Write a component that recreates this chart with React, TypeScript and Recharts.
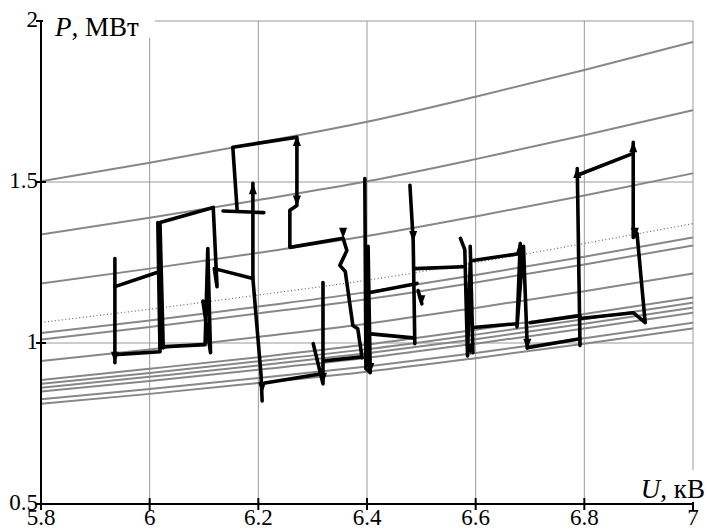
import React from 'react';
import { ComposedChart, Line, Scatter, XAxis, YAxis, CartesianGrid } from 'recharts';

// ---------- axes ----------
const X_TICKS = [5.8, 6.0, 6.2, 6.4, 6.6, 6.8, 7.0];
const X_TICK_LABELS = ['5.8', '6', '6.2', '6.4', '6.6', '6.8', '7'];
const Y_TICKS = [0.5, 1, 1.5, 2];
const Y_TICK_LABELS = ['0.5', '1', '1.5', '2'];

// ---------- grey characteristic curves (P at U = 5.8 … 7.0) ----------
const U_GRID = [5.8, 6.0, 6.2, 6.4, 6.6, 6.8, 7.0];
const CURVE_1 = [1.502, 1.56, 1.622, 1.687, 1.765, 1.848, 1.935];
const CURVE_2 = [1.337, 1.389, 1.444, 1.502, 1.571, 1.645, 1.723];
const CURVE_3 = [1.185, 1.231, 1.28, 1.332, 1.393, 1.458, 1.527];
const CURVE_DOTTED = [1.064, 1.105, 1.149, 1.195, 1.25, 1.309, 1.371];
const CURVE_5 = [1.031, 1.07, 1.113, 1.158, 1.211, 1.268, 1.328];
const CURVE_6 = [1.011, 1.05, 1.092, 1.136, 1.188, 1.244, 1.303];
const CURVE_7 = [0.944, 0.98, 1.019, 1.06, 1.109, 1.161, 1.216];
const CURVE_8 = [0.885, 0.92, 0.956, 0.995, 1.041, 1.09, 1.141];
const CURVE_9 = [0.873, 0.907, 0.943, 0.981, 1.026, 1.074, 1.125];
const CURVE_10 = [0.861, 0.895, 0.93, 0.968, 1.012, 1.06, 1.11];
const CURVE_11 = [0.849, 0.882, 0.917, 0.954, 0.998, 1.045, 1.094];
const CURVE_12 = [0.825, 0.857, 0.891, 0.927, 0.969, 1.015, 1.063];
const CURVE_13 = [0.811, 0.842, 0.876, 0.911, 0.953, 0.998, 1.045];

// ---------- black trajectory pieces [U, P] ----------
type Pt = [number, number];
const TRAJ_1: Pt[] = [[5.936, 1.262], [5.936, 0.939]];
const TRAJ_2: Pt[] = [[5.936, 1.175], [6.019, 1.222]];
const TRAJ_3: Pt[] = [[5.936, 0.964], [6.019, 0.973], [6.015, 1.374], [6.025, 0.985], [6.019, 1.374], [6.117, 1.421], [6.124, 1.175], [6.119, 1.231], [6.19, 1.2], [6.19, 1.496]];
const TRAJ_4: Pt[] = [[6.019, 0.988], [6.102, 0.995], [6.107, 1.293], [6.112, 0.97], [6.098, 1.13]];
const TRAJ_5: Pt[] = [[6.19, 1.2], [6.205, 0.9], [6.207, 0.82]];
const TRAJ_6: Pt[] = [[6.212, 0.876], [6.314, 0.904]];
const TRAJ_7: Pt[] = [[6.319, 1.188], [6.319, 0.873], [6.301, 0.998]];
const TRAJ_8: Pt[] = [[6.161, 1.412], [6.153, 1.608], [6.271, 1.639], [6.271, 1.427], [6.258, 1.412], [6.258, 1.297], [6.356, 1.325], [6.363, 1.287], [6.35, 1.241], [6.36, 1.222], [6.374, 1.054], [6.383, 1.044], [6.391, 0.954]];
const TRAJ_9: Pt[] = [[6.135, 1.41], [6.21, 1.405]];
const TRAJ_10: Pt[] = [[6.323, 0.945], [6.391, 0.957]];
const TRAJ_11: Pt[] = [[6.396, 1.511], [6.398, 0.92], [6.406, 0.908], [6.402, 1.3], [6.404, 0.93]];
const TRAJ_12: Pt[] = [[6.406, 1.157], [6.492, 1.185]];
const TRAJ_13: Pt[] = [[6.402, 1.029], [6.485, 1.016]];
const TRAJ_14: Pt[] = [[6.479, 1.49], [6.485, 1.318], [6.488, 0.998]];
const TRAJ_15: Pt[] = [[6.488, 1.231], [6.577, 1.237]];
const TRAJ_16: Pt[] = [[6.494, 1.163], [6.501, 1.122]];
const TRAJ_17: Pt[] = [[6.572, 1.325], [6.58, 1.29], [6.585, 0.96], [6.59, 1.25], [6.595, 0.97], [6.59, 1.3]];
const TRAJ_18: Pt[] = [[6.595, 1.048], [6.676, 1.06]];
const TRAJ_19: Pt[] = [[6.595, 1.256], [6.682, 1.278]];
const TRAJ_20: Pt[] = [[6.682, 1.309], [6.676, 1.05], [6.688, 1.3], [6.695, 0.985]];
const TRAJ_21: Pt[] = [[6.7, 1.063], [6.792, 1.085]];
const TRAJ_22: Pt[] = [[6.695, 0.985], [6.792, 1.013]];
const TRAJ_23: Pt[] = [[6.787, 1.542], [6.792, 0.992]];
const TRAJ_24: Pt[] = [[6.787, 1.521], [6.89, 1.589]];
const TRAJ_25: Pt[] = [[6.89, 1.623], [6.89, 1.328], [6.897, 1.34], [6.912, 1.063], [6.89, 1.094], [6.792, 1.076]];

// ---------- arrow heads [U, P, direction] ----------
const ARROWS: [number, number, string][] = [
  [5.936, 0.945, 'down'], [6.207, 0.85, 'down'], [6.319, 0.88, 'down'], [6.271, 1.43, 'down'],
  [6.356, 1.33, 'down'], [6.485, 1.32, 'down'], [6.271, 1.64, 'up'], [6.19, 1.49, 'up'],
  [6.682, 1.31, 'up'], [6.787, 1.54, 'up'], [6.89, 1.62, 'up'], [6.893, 1.33, 'down'],
  [6.695, 0.985, 'down'], [6.59, 0.97, 'down'], [6.406, 0.91, 'down'], [6.5, 1.12, 'down'],
];

const PLOT_BOTTOM = 504;
const SERIF = 'Liberation Serif, DejaVu Serif, Noto Serif, serif';

const curveData = (vals: number[]) => U_GRID.map((u, i) => ({ u, p: vals[i] }));
const ptData = (pts: Pt[]) => pts.map(([u, p]) => ({ u, p }));

const GREY_CURVES = [CURVE_1, CURVE_2, CURVE_3, CURVE_5, CURVE_6, CURVE_7, CURVE_8, CURVE_9, CURVE_10, CURVE_11, CURVE_12, CURVE_13];
const TRAJS = [TRAJ_1, TRAJ_2, TRAJ_3, TRAJ_4, TRAJ_5, TRAJ_6, TRAJ_7, TRAJ_8, TRAJ_9, TRAJ_10, TRAJ_11, TRAJ_12, TRAJ_13, TRAJ_14, TRAJ_15, TRAJ_16, TRAJ_17, TRAJ_18, TRAJ_19, TRAJ_20, TRAJ_21, TRAJ_22, TRAJ_23, TRAJ_24, TRAJ_25];

function XTick(props: any) {
  const { x, index } = props;
  return (
    <g>
      <line x1={x} x2={x} y1={PLOT_BOTTOM - 6} y2={PLOT_BOTTOM + 6} stroke="#000" strokeWidth={2} />
      <text x={x} y={525} textAnchor="middle" style={{ fontFamily: SERIF }} fontSize={23} fill="#000">
        {X_TICK_LABELS[index]}
      </text>
    </g>
  );
}

function YTick(props: any) {
  const { y, index } = props;
  return (
    <g>
      <line x1={36} x2={46} y1={y} y2={y} stroke="#000" strokeWidth={2} />
      <text x={38} y={y + 6} textAnchor="end" style={{ fontFamily: SERIF }} fontSize={23} fill="#000">
        {Y_TICK_LABELS[index]}
      </text>
    </g>
  );
}

function ArrowShape(props: any) {
  const { cx, cy, payload } = props;
  if (cx == null || cy == null) return <g />;
  const d = payload.dir === 'up' ? -1 : 1;
  const pts = `${cx - 4},${cy - 9 * d} ${cx + 4},${cy - 9 * d} ${cx},${cy + 2 * d}`;
  return <polygon points={pts} fill="#000" />;
}

export default function App() {
  const arrowData = ARROWS.map(([u, p, dir]) => ({ u, p, dir }));
  return (
    <div style={{ position: 'absolute', left: 0, top: 0, width: 707, height: 531, background: '#fff', fontFamily: SERIF }}>
      <ComposedChart width={707} height={531} margin={{ top: 21, right: 14, bottom: 0, left: 0 }}>
        <CartesianGrid stroke="#9a9a9a" strokeWidth={1} />
        <XAxis
          type="number"
          dataKey="u"
          domain={[5.8, 7]}
          ticks={X_TICKS}
          interval={0}
          height={27}
          allowDataOverflow
          axisLine={{ stroke: '#000', strokeWidth: 2 }}
          tickLine={false}
          tick={(p: any) => <XTick {...p} />}
        />
        <YAxis
          type="number"
          dataKey="p"
          domain={[0.5, 2]}
          ticks={Y_TICKS}
          interval={0}
          width={41}
          allowDataOverflow
          axisLine={{ stroke: '#000', strokeWidth: 2 }}
          tickLine={false}
          tick={(p: any) => <YTick {...p} />}
        />
        {GREY_CURVES.map((c, i) => (
          <Line key={'c' + i} data={curveData(c)} dataKey="p" type="monotone" stroke="#878787" strokeWidth={2} dot={false} isAnimationActive={false} />
        ))}
        <Line data={curveData(CURVE_DOTTED)} dataKey="p" type="monotone" stroke="#666" strokeWidth={1.2} strokeDasharray="1 2.5" dot={false} isAnimationActive={false} />
        {TRAJS.map((t, i) => (
          <Line key={'t' + i} data={ptData(t)} dataKey="p" type="linear" stroke="#000" strokeWidth={3.6} strokeLinejoin="round" strokeLinecap="round" dot={false} isAnimationActive={false} />
        ))}
        <Scatter data={arrowData} dataKey="p" shape={ArrowShape} isAnimationActive={false} />
      </ComposedChart>
      <div style={{ position: 'absolute', left: 43, top: 0, width: 112, height: 38, background: '#fff' }}>
        <span style={{ position: 'absolute', left: 12, top: 14, lineHeight: '27px', fontSize: 27, fontFamily: SERIF, whiteSpace: 'nowrap', color: '#000' }}>
          <i>P</i>, МВт
        </span>
      </div>
      <div style={{ position: 'absolute', left: 634, top: 470, width: 73, height: 32, background: '#fff' }}>
        <span style={{ position: 'absolute', right: 2, top: 6, lineHeight: '27px', fontSize: 27, fontFamily: SERIF, whiteSpace: 'nowrap', color: '#000' }}>
          <i>U</i>, кВ
        </span>
      </div>
    </div>
  );
}
